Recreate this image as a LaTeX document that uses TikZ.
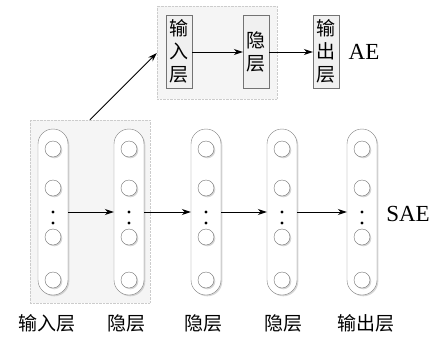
\documentclass[tikz,border=0pt]{standalone}
\usepackage{fontspec}
\setmainfont{Liberation Serif}
\newfontfamily\cjk{Noto Sans CJK SC}
\usetikzlibrary{shadows,arrows.meta}
\begin{document}
\begin{tikzpicture}[x=1pt,y=-1pt,
  grpbox/.style={draw=black!20, densely dotted, fill=black!4, inner sep=0pt},
  softshadow/.style={drop shadow={shadow xshift=1.3pt, shadow yshift=-1.3pt, fill=black!35, opacity=.45}},
  pill/.style={draw=black!50, fill=white, minimum width=30pt, minimum height=166pt, rounded corners=15pt, inner sep=0pt, softshadow},
  neuron/.style={circle, draw=black!55, fill=white, minimum size=16pt, inner sep=0pt, softshadow},
  layerbox/.style={draw=black!55, fill=black!6, minimum width=26pt, minimum height=73pt, inner sep=0pt, align=center, font=\cjk\fontsize{19}{23}\selectfont, softshadow},
  ndot/.style={circle, fill=black, inner sep=0pt, minimum size=3.2pt},
  arr/.style={-{Stealth[length=9pt,width=6pt]}, line width=0.9pt},
  lab/.style={font=\cjk\fontsize{19}{19}\selectfont, inner sep=0pt},
  tag/.style={font=\fontsize{23}{23}\selectfont, inner sep=0pt}
]
\useasboundingbox (0,0) rectangle (434,338);
% group boxes
\node[grpbox, minimum width=120pt, minimum height=183pt] (sae) at (90,211.5) {};
\node[grpbox, minimum width=120pt, minimum height=93pt] (ae) at (217,52.5) {};
% AE layers
\node[layerbox] (ain) at (179,51.5) {输\\入\\层};
\node[layerbox] (ahid) at (256,51.5) {隐\\层};
\node[layerbox] (aout) at (326,51.5) {输\\出\\层};
\node[tag] (aetag) at (364,52) {AE};
\draw[arr] (ain.east |- 0,52) -- (ahid.west |- 0,52);
\draw[arr] (ahid.east |- 0,52) -- (aout.west |- 0,52);
% SAE layers
\foreach \i/\cx in {1/53,2/129,3/206,4/282,5/362}{
  \node[pill] (p\i) at (\cx,212) {};
  \node[neuron] (n\i a) at (\cx,149) {};
  \node[neuron] (n\i b) at (\cx,188) {};
  \node[neuron] (n\i c) at (\cx,237) {};
  \node[neuron] (n\i d) at (\cx,280) {};
  \node[ndot] (d\i a) at (\cx,212) {};
  \node[ndot] (d\i b) at (\cx,223) {};
}
\draw[arr] (p1.east) -- (p2.west);
\draw[arr] (p2.east) -- (p3.west);
\draw[arr] (p3.east) -- (p4.west);
\draw[arr] (p4.east) -- (p5.west);
\node[tag] (saetag) at (408,214) {SAE};
\draw[arr] (sae.north) -- (ae.west |- 0,53);
% labels
\node[lab] (l1) at (47,323) {输入层};
\node[lab] (l2) at (126,323) {隐层};
\node[lab] (l3) at (203,323) {隐层};
\node[lab] (l4) at (283,323) {隐层};
\node[lab] (l5) at (366,323) {输出层};
\end{tikzpicture}
\end{document}
